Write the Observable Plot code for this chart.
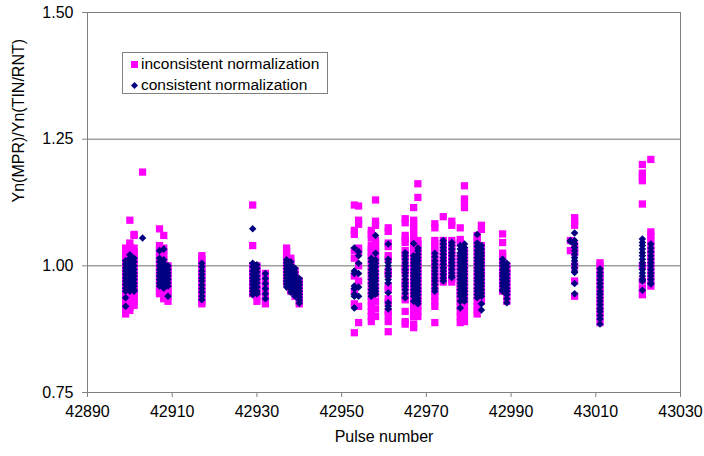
<!DOCTYPE html>
<html>
<head>
<meta charset="utf-8">
<script src="https://cdn.jsdelivr.net/npm/d3@7"></script>
<script src="https://cdn.jsdelivr.net/npm/@observablehq/plot@0.6"></script>
<style>
  html, body { margin: 0; padding: 0; background: #fff; }
  #wrap { position: relative; width: 704px; height: 456px; font-family: "Liberation Sans", Arial, sans-serif; }
  #legend { position: absolute; left: 122px; top: 52px; width: 204px; height: 40px; border: 1px solid #808080; background: #fff; font-size: 15.5px; color: #000; }
  .row { position: absolute; left: 0; height: 20px; line-height: 20px; white-space: nowrap; }
  .sw { position: absolute; top: 7px; }
  .lbl { position: absolute; left: 18px; }
</style>
</head>
<body>
<div id="wrap">
  <div id="chart"></div>
  <div id="legend">
    <div class="row" style="top:1px"><svg class="sw" width="10" height="8" style="left:7px"><rect x="1" y="0" width="7" height="7" fill="#ff00ff"/></svg><span class="lbl">inconsistent normalization</span></div>
    <div class="row" style="top:22px"><svg class="sw" width="10" height="8" style="left:7px"><path d="M4.5,0 L8,3.5 L4.5,7 L1,3.5Z" fill="#000080"/></svg><span class="lbl">consistent normalization</span></div>
  </div>
</div>
<script>
// Pulse numbers (one entry per measured pulse)
const pulses = [42899, 42900, 42901, 42903, 42907, 42908, 42909, 42917, 42929, 42930, 42932,
  42937, 42938, 42939, 42940, 42953, 42954, 42957, 42958, 42961, 42965, 42967, 42968,
  42972, 42974, 42976, 42978, 42979, 42982, 42983, 42988, 42989, 43004, 43005, 43011, 43021, 43023];

// Yn(MPR)/Yn(TIN/RNT), inconsistent normalization (per pulse)
const inconsistent = [
  [1.035, 1.028, 1.02, 1.012, 1.005, 0.998, 0.99, 0.983, 0.976, 0.968, 0.96, 0.953, 0.946, 0.938, 0.93, 0.922, 0.914, 0.905],
  [1.09, 1.045, 1.038, 1.03, 1.022, 1.015, 1.008, 1.0, 0.993, 0.986, 0.978, 0.97, 0.962, 0.955, 0.948, 0.94, 0.932, 0.925, 0.918, 0.912],
  [1.062, 1.06, 1.035, 1.028, 1.02, 1.012, 1.005, 0.998, 0.99, 0.982, 0.975, 0.968, 0.96, 0.952, 0.945, 0.938, 0.93, 0.922],
  [1.185],
  [1.073, 1.04, 1.033, 1.026, 1.018, 1.01, 1.003, 0.996, 0.988, 0.98, 0.973, 0.966, 0.958, 0.95, 0.945],
  [1.06, 1.035, 1.028, 1.02, 1.012, 1.005, 0.998, 0.99, 0.982, 0.975, 0.968, 0.96, 0.952, 0.945, 0.938, 0.935],
  [1.0, 0.993, 0.986, 0.978, 0.97, 0.963, 0.955, 0.948, 0.94, 0.93],
  [1.02, 1.013, 1.006, 0.998, 0.99, 0.983, 0.976, 0.968, 0.96, 0.953, 0.946, 0.938, 0.93, 0.925],
  [1.12, 1.04, 1.0, 0.993, 0.986, 0.978, 0.97, 0.963, 0.956, 0.948, 0.945],
  [1.0, 0.993, 0.986, 0.978, 0.97, 0.962, 0.955, 0.948, 0.94, 0.93],
  [0.985, 0.978, 0.97, 0.962, 0.955, 0.948, 0.94, 0.932, 0.925],
  [1.035, 1.028, 1.02, 1.012, 1.005, 0.998, 0.99, 0.983, 0.975, 0.968],
  [1.015, 1.008, 1.0, 0.993, 0.986, 0.978, 0.97, 0.963, 0.956, 0.95],
  [0.99, 0.983, 0.976, 0.968, 0.96, 0.953, 0.946, 0.94],
  [0.97, 0.96, 0.95, 0.94, 0.93, 0.925],
  [1.12, 1.07, 1.062, 1.03, 1.015, 0.98, 0.95, 0.925, 0.868],
  [1.118, 1.09, 1.082, 1.035, 1.028, 1.0, 0.97, 0.92, 0.888],
  [1.07, 1.062, 1.055, 1.04, 1.033, 1.026, 1.018, 1.01, 1.0, 0.99, 0.98, 0.97, 0.96, 0.95, 0.94, 0.93, 0.92, 0.91, 0.9, 0.89],
  [1.13, 1.088, 1.08, 1.05, 1.043, 1.036, 1.028, 1.02, 1.012, 1.005, 0.99, 0.975, 0.96, 0.945, 0.93, 0.915, 0.9],
  [1.075, 1.068, 1.045, 1.038, 1.02, 1.013, 0.99, 0.983, 0.96, 0.953, 0.935, 0.928, 0.91, 0.903, 0.89, 0.87],
  [1.093, 1.085, 1.06, 1.053, 1.046, 1.03, 1.022, 1.015, 1.0, 0.993, 0.986, 0.97, 0.963, 0.956, 0.94, 0.933, 0.91, 0.89, 0.885],
  [1.115, 1.09, 1.083, 1.076, 1.068, 1.06, 1.053, 1.046, 1.038, 1.03, 1.022, 1.015, 1.008, 1.0, 0.99, 0.98, 0.97, 0.96, 0.95, 0.94, 0.93, 0.92, 0.91, 0.9, 0.885, 0.878],
  [1.162, 1.135, 1.05, 1.043, 1.035, 1.028, 1.02, 1.013, 1.005, 0.998, 0.99, 0.983, 0.975, 0.968, 0.96, 0.953, 0.945, 0.938, 0.93, 0.92, 0.91, 0.9],
  [1.083, 1.075, 1.05, 1.043, 1.036, 1.028, 1.02, 1.012, 1.005, 0.998, 0.99, 0.982, 0.975, 0.968, 0.96, 0.95, 0.94, 0.93, 0.92, 0.888],
  [1.097, 1.05, 1.043, 1.036, 1.028, 1.02, 1.012, 1.005, 0.998, 0.99, 0.982, 0.975, 0.968],
  [1.088, 1.08, 1.05, 1.043, 1.036, 1.028, 1.02, 1.012, 1.005, 0.998, 0.99, 0.982, 0.975, 0.968],
  [1.075, 1.052, 1.045, 1.02, 1.013, 1.005, 0.998, 0.99, 0.982, 0.975, 0.968, 0.96, 0.952, 0.945, 0.938, 0.93, 0.92, 0.91, 0.9, 0.888],
  [1.158, 1.132, 1.125, 1.115, 1.03, 1.023, 1.015, 1.008, 1.0, 0.993, 0.985, 0.978, 0.97, 0.963, 0.955, 0.948, 0.94, 0.93, 0.92, 0.91, 0.9, 0.89],
  [1.06, 1.053, 1.046, 1.038, 1.03, 1.02, 1.01, 1.0, 0.99, 0.98, 0.97, 0.96, 0.95, 0.94, 0.93, 0.92, 0.912, 0.905],
  [1.08, 1.072, 1.04, 1.03, 1.02, 1.01, 1.0, 0.99, 0.98, 0.97, 0.96, 0.95, 0.94, 0.93],
  [1.063, 1.046, 1.025, 1.018, 1.01, 1.0, 0.993, 0.986, 0.978, 0.97, 0.963, 0.956, 0.95],
  [1.0, 0.993, 0.986, 0.978, 0.97, 0.962, 0.955, 0.948, 0.94, 0.93],
  [1.05, 1.03],
  [1.095, 1.088, 1.08, 1.04, 1.033, 1.026, 1.0, 0.97, 0.94],
  [1.006, 1.0, 0.99, 0.98, 0.97, 0.96, 0.95, 0.94, 0.93, 0.92, 0.91, 0.9, 0.888],
  [1.2, 1.183, 1.175, 1.168, 1.122, 1.0, 0.97, 0.955, 0.943],
  [1.21, 1.067, 1.06, 1.05, 1.04, 1.03, 1.02, 1.01, 1.0, 0.99, 0.98, 0.97, 0.96]
];

// Yn(MPR)/Yn(TIN/RNT), consistent normalization (per pulse)
const consistent = [
  [1.01, 1.003, 0.996, 0.99, 0.983, 0.976, 0.97, 0.963, 0.956, 0.95, 0.937, 0.92],
  [1.022, 1.015, 1.008, 1.002, 0.995, 0.988, 0.982, 0.975, 0.968, 0.962, 0.955, 0.95],
  [1.015, 1.008, 1.0, 0.993, 0.986, 0.98, 0.973, 0.966, 0.96, 0.953, 0.95],
  [1.055],
  [1.03, 1.015, 1.008, 1.0, 0.993, 0.986, 0.98, 0.973, 0.966, 0.96],
  [1.033, 1.012, 1.005, 0.998, 0.99, 0.983, 0.976, 0.97, 0.963, 0.956],
  [1.0, 0.993, 0.986, 0.98, 0.973, 0.966, 0.96, 0.94],
  [1.005, 0.998, 0.99, 0.983, 0.976, 0.97, 0.962, 0.955, 0.948, 0.94, 0.933],
  [1.073, 1.005, 0.998, 0.99, 0.983, 0.976, 0.97, 0.963, 0.956, 0.95, 0.943],
  [1.002, 0.995, 0.988, 0.98, 0.973, 0.966, 0.958, 0.95, 0.945],
  [0.985, 0.975, 0.965, 0.955, 0.945, 0.935],
  [1.012, 1.006, 1.0, 0.994, 0.988, 0.982, 0.976, 0.97, 0.964, 0.958],
  [1.008, 1.002, 0.996, 0.99, 0.984, 0.978, 0.972, 0.966, 0.96, 0.954, 0.948],
  [0.995, 0.988, 0.982, 0.976, 0.97, 0.964, 0.958, 0.952, 0.946, 0.94],
  [0.975, 0.968, 0.962, 0.956, 0.95, 0.944, 0.938, 0.932, 0.926],
  [1.035, 0.99, 0.985, 0.96, 0.955, 0.944, 0.94, 0.917],
  [1.028, 1.02, 1.005, 0.985, 0.958, 0.94],
  [1.015, 1.008, 1.0, 0.993, 0.986, 0.98, 0.973, 0.966, 0.96, 0.953, 0.946, 0.94],
  [1.06, 1.025, 1.012, 1.005, 0.998, 0.99, 0.983, 0.976, 0.97, 0.963, 0.956, 0.95, 0.944],
  [1.043, 1.013, 1.006, 1.0, 0.993, 0.986, 0.98, 0.973, 0.966, 0.947, 0.927, 0.92, 0.915],
  [1.026, 1.02, 1.013, 1.006, 1.0, 0.993, 0.986, 0.98, 0.973, 0.966, 0.96, 0.953, 0.946, 0.937],
  [1.044, 1.02, 1.013, 1.006, 1.0, 0.993, 0.986, 0.98, 0.973, 0.966, 0.96, 0.953, 0.946, 0.94, 0.93],
  [1.035, 1.03, 1.023, 1.016, 1.01, 1.003, 0.996, 0.99, 0.983, 0.976, 0.97, 0.963, 0.956, 0.95, 0.943, 0.936, 0.93, 0.925],
  [1.025, 1.018, 1.01, 1.003, 0.996, 0.99, 0.983, 0.976, 0.97, 0.963, 0.956, 0.95],
  [1.05, 1.043, 1.036, 1.03, 1.023, 1.016, 1.01, 1.003, 0.996, 0.99, 0.983, 0.976, 0.97],
  [1.046, 1.04, 1.033, 1.026, 1.02, 1.013, 1.006, 1.0, 0.993, 0.986, 0.98, 0.977],
  [1.04, 1.033, 1.026, 1.02, 1.013, 1.006, 1.0, 0.993, 0.986, 0.98, 0.973, 0.966, 0.96, 0.953, 0.946, 0.94, 0.93, 0.917],
  [1.043, 1.036, 1.03, 1.023, 1.016, 1.01, 1.003, 0.996, 0.99, 0.983, 0.976, 0.97, 0.963, 0.956, 0.95, 0.943, 0.936, 0.93],
  [1.062, 1.045, 1.038, 1.03, 1.023, 1.016, 1.01, 1.003, 0.996, 0.99, 0.983, 0.976, 0.97, 0.963, 0.956, 0.95, 0.943, 0.937],
  [1.04, 1.033, 1.026, 1.02, 1.013, 1.006, 1.0, 0.993, 0.986, 0.98, 0.973, 0.966, 0.96, 0.953, 0.946, 0.94, 0.925, 0.913],
  [1.013, 1.006, 1.0, 0.993, 0.986, 0.98, 0.973, 0.966, 0.96, 0.953, 0.95],
  [1.005, 0.998, 0.99, 0.983, 0.976, 0.97, 0.963, 0.956, 0.95, 0.943, 0.935, 0.927],
  [1.05, 1.048],
  [1.065, 1.05, 1.043, 1.036, 1.03, 1.023, 1.016, 1.01, 1.003, 0.996, 0.99, 0.987, 0.965, 0.945],
  [0.994, 0.987, 0.98, 0.972, 0.965, 0.958, 0.95, 0.944, 0.937, 0.93, 0.923, 0.916, 0.91, 0.902, 0.895, 0.885],
  [1.053, 1.046, 1.04, 1.033, 1.026, 1.02, 1.013, 1.006, 1.0, 0.993, 0.986, 0.98, 0.973, 0.97, 0.952],
  [1.043, 1.035, 1.028, 1.02, 1.013, 1.006, 1.0, 0.993, 0.986, 0.98, 0.973, 0.966, 0.964]
];

// Axis ticks and labels
const xTicks = [42890, 42910, 42930, 42950, 42970, 42990, 43010, 43030];
const yTicks = [0.75, 1.00, 1.25, 1.50];
const gridLines = [1.00, 1.25, 1.50];
const xTitle = "Pulse number";
const yTitle = "Yn(MPR)/Yn(TIN/RNT)";

const incRows = pulses.flatMap((p, i) => inconsistent[i].map(v => ({pulse: p, value: v})));
const conRows = pulses.flatMap((p, i) => consistent[i].map(v => ({pulse: p, value: v})));

const chart = Plot.plot({
  width: 704,
  height: 456,
  marginLeft: 87,
  marginRight: 24,
  marginTop: 12,
  marginBottom: 64,
  style: {fontFamily: "'Liberation Sans', Arial, sans-serif", fontSize: "16px", color: "#000", background: "#fff"},
  x: {domain: [42890, 43030]},
  y: {domain: [0.75, 1.5]},
  marks: [
    Plot.ruleY(gridLines, {stroke: "#6e6e6e", strokeWidth: 1}),
    Plot.frame({stroke: "#808080"}),
    Plot.axisX({ticks: xTicks, tickSize: 5, tickPadding: 8, tickFormat: d => String(d), label: null, stroke: "#808080"}),
    Plot.axisY({ticks: yTicks, tickSize: 5, tickPadding: 9, tickFormat: ".2f", label: null, stroke: "#808080"}),
    Plot.dot(incRows, {x: "pulse", y: "value", symbol: "square", r: 4.1, fill: "#ff00ff", stroke: "none"}),
    Plot.dot(conRows, {x: "pulse", y: "value", symbol: "diamond2", r: 3.4, fill: "#000080", stroke: "none"}),
    Plot.text([xTitle], {frameAnchor: "bottom", dy: 49, text: d => d, fontSize: 16}),
    Plot.text([yTitle], {frameAnchor: "left", dx: -69, rotate: -90, text: d => d, fontSize: 16})
  ]
});
document.getElementById("chart").appendChild(chart);
</script>
</body>
</html>
